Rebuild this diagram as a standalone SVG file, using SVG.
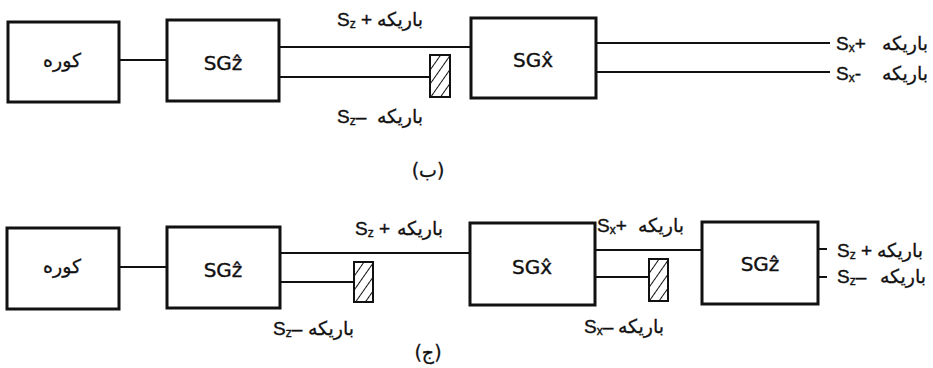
<svg xmlns="http://www.w3.org/2000/svg" width="933" height="368" viewBox="0 0 933 368">
<style>
.box{fill:#fff;stroke:#111;stroke-width:3}
.ln{stroke:#111;stroke-width:2;fill:none}
.hatch{fill:url(#hp);stroke:#111;stroke-width:2}
.sg{font-family:"DejaVu Sans",sans-serif;font-size:20px;fill:#111;stroke:#111;stroke-width:0.4;text-anchor:middle}
.fa{font-family:"DejaVu Sans",sans-serif;font-size:19px;fill:#111;stroke:#111;stroke-width:0.3;text-anchor:middle}
.lb{font-family:"Liberation Sans",Arial,sans-serif;font-size:19px;fill:#111;stroke:#111;stroke-width:0.4}
.sub{font-size:12px}
</style>
<defs>
<pattern id="hp" patternUnits="userSpaceOnUse" width="8" height="8" patternTransform="rotate(35)">
<rect width="8" height="8" fill="#fff"/>
<line x1="0" y1="0" x2="0" y2="8" stroke="#111" stroke-width="2"/>
</pattern>
</defs>
<g id="connectors">
<line class="ln" x1="119" y1="60" x2="167" y2="60"/>
<line class="ln" x1="279" y1="47" x2="471" y2="47"/>
<line class="ln" x1="279" y1="77" x2="430" y2="77"/>
<line class="ln" x1="596" y1="43" x2="830" y2="43"/>
<line class="ln" x1="596" y1="72" x2="830" y2="72"/>
<line class="ln" x1="119" y1="267" x2="167" y2="267"/>
<line class="ln" x1="280" y1="253" x2="470" y2="253"/>
<line class="ln" x1="280" y1="282" x2="354" y2="282"/>
<line class="ln" x1="595" y1="250" x2="702" y2="250"/>
<line class="ln" x1="595" y1="277" x2="649" y2="277"/>
<line class="ln" x1="818" y1="249" x2="827" y2="249"/>
<line class="ln" x1="818" y1="277" x2="827" y2="277"/>
</g>
<g id="b-kure"><rect class="box" x="8" y="22" width="111" height="80"/><text class="fa" x="62" y="67">کوره</text></g>
<g id="b-sgz"><rect class="box" x="167" y="20" width="112" height="81"/><text class="sg" x="223" y="70">SGẑ</text></g>
<g id="b-block"><rect class="hatch" x="430" y="55" width="20" height="42"/></g>
<g id="b-sgx"><rect class="box" x="471" y="18" width="125" height="80"/><text class="sg" x="533" y="67">SGx̂</text></g>
<g id="b-labels">
<text class="lb" x="337" y="26">S<tspan class="sub" dy="2">z</tspan><tspan dy="-2"> +</tspan></text><text class="fa" x="400" y="26">باریکه</text>
<text class="lb" x="337" y="123">S<tspan class="sub" dy="2">z</tspan><tspan dy="-2">–</tspan></text><text class="fa" x="400" y="123">باریکه</text>
<text class="lb" x="836" y="50">S<tspan class="sub" dy="2">x</tspan><tspan dy="-2">+</tspan></text><text class="fa" x="905" y="50">باریکه</text>
<text class="lb" x="836" y="80">S<tspan class="sub" dy="2">x</tspan><tspan dy="-2">-</tspan></text><text class="fa" x="905" y="80">باریکه</text>
<text class="fa" x="428" y="177">(ب)</text>
</g>
<g id="c-kure"><rect class="box" x="7" y="228" width="112" height="81"/><text class="fa" x="62" y="273">کوره</text></g>
<g id="c-sgz"><rect class="box" x="167" y="227" width="113" height="81"/><text class="sg" x="223" y="277">SGẑ</text></g>
<g id="c-block1"><rect class="hatch" x="354" y="262" width="19" height="40"/></g>
<g id="c-sgx"><rect class="box" x="470" y="223" width="125" height="82"/><text class="sg" x="532" y="274">SGx̂</text></g>
<g id="c-block2"><rect class="hatch" x="649" y="259" width="19" height="42"/></g>
<g id="c-sgz2"><rect class="box" x="702" y="222" width="116" height="82"/><text class="sg" x="760" y="271">SGẑ</text></g>
<g id="c-labels">
<text class="lb" x="355" y="235">S<tspan class="sub" dy="2">z</tspan><tspan dy="-2"> +</tspan></text><text class="fa" x="420" y="235">باریکه</text>
<text class="lb" x="273" y="335">S<tspan class="sub" dy="2">z</tspan><tspan dy="-2">–</tspan></text><text class="fa" x="331" y="335">باریکه</text>
<text class="lb" x="597" y="232">S<tspan class="sub" dy="2">x</tspan><tspan dy="-2">+</tspan></text><text class="fa" x="661" y="232">باریکه</text>
<text class="lb" x="584" y="333">S<tspan class="sub" dy="2">x</tspan><tspan dy="-2">–</tspan></text><text class="fa" x="641" y="333">باریکه</text>
<text class="lb" x="837" y="257">S<tspan class="sub" dy="2">z</tspan><tspan dy="-2"> +</tspan></text><text class="fa" x="900" y="257">باریکه</text>
<text class="lb" x="837" y="283">S<tspan class="sub" dy="2">z</tspan><tspan dy="-2">–</tspan></text><text class="fa" x="903" y="283">باریکه</text>
<text class="fa" x="428" y="359">(ج)</text>
</g>
</svg>
